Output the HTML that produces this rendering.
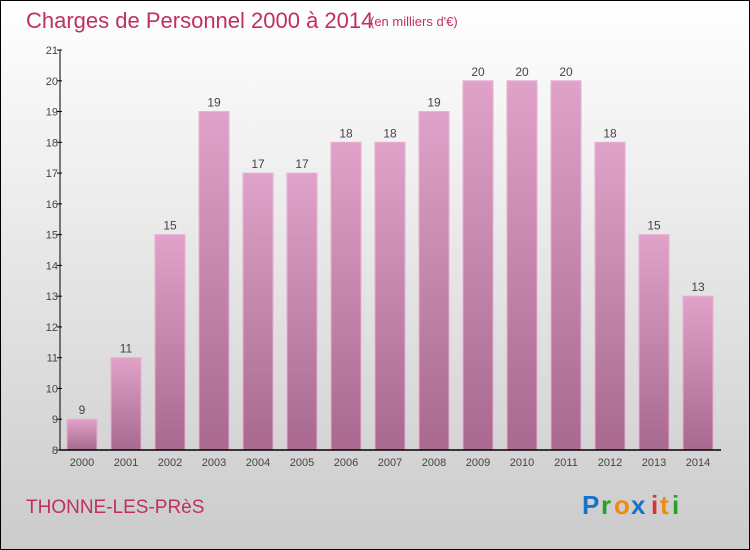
<!DOCTYPE html>
<html><head><meta charset="utf-8"><style>
html,body{margin:0;padding:0}
body{width:750px;height:550px;overflow:hidden}
svg{display:block;font-family:"Liberation Sans",sans-serif}
</style></head><body>
<svg id="chart" width="750" height="550" viewBox="0 0 750 550">
<defs>
<linearGradient id="bg" x1="0" y1="0" x2="0" y2="1"><stop offset="0" stop-color="#ffffff"/><stop offset="1" stop-color="#cbcbcb"/></linearGradient>
<linearGradient id="bar" x1="0" y1="0" x2="0" y2="1"><stop offset="0" stop-color="#e0a2c8"/><stop offset="1" stop-color="#a9698f"/></linearGradient>
</defs>
<rect x="0.5" y="0.5" width="749" height="549" fill="url(#bg)" stroke="#000"/>
<text x="26" y="28" font-size="22" fill="#c0305f">Charges de Personnel 2000 à 2014</text>
<text x="370" y="26" font-size="13" fill="#c0305f">(en milliers d'€)</text>
<g id="bars"></g>
<g id="axes"></g>
<text x="26" y="513" font-size="19" fill="#c0305f">THONNE-LES-PRèS</text>
<g font-size="26" font-weight="bold">
<text x="582" y="514" fill="#1a72c8">P</text><text x="601" y="514" fill="#2aa02a">r</text><text x="614" y="514" fill="#f08a10">o</text><text x="631" y="514" fill="#1a72c8">x</text><text x="651" y="514" fill="#e03030">i</text><text x="660" y="514" fill="#f08a10">t</text><text x="672" y="514" fill="#2aa02a">i</text>
</g>
</svg>
<script>
const years=["2000","2001","2002","2003","2004","2005","2006","2007","2008","2009","2010","2011","2012","2013","2014"];
const values=[9,11,15,19,17,17,18,18,19,20,20,20,18,15,13];
const yTicks=[8,9,10,11,12,13,14,15,16,17,18,19,20,21];
const NS="http://www.w3.org/2000/svg";
const y0=450,yTop=50,yMin=8,yMax=21;
function ys(v){return y0-(v-yMin)/(yMax-yMin)*(y0-yTop);}
function xs(i){return 82+i*44;}
function mk(t,a,p){const e=document.createElementNS(NS,t);for(const k in a)e.setAttribute(k,a[k]);p.appendChild(e);return e;}
const bars=document.getElementById('bars'),axes=document.getElementById('axes');
values.forEach((v,i)=>{
 const r=mk('rect',{x:xs(i)-15,y:ys(v),width:30,height:y0-ys(v),fill:'url(#bar)',stroke:'#e8b0d2','stroke-width':1},bars);
 
 
 const t=mk('text',{x:xs(i),y:ys(v)-5,'text-anchor':'middle','font-size':12,fill:'#444'},bars);
 t.textContent=v;
 
 
 const xl=mk('text',{x:xs(i),y:466,'text-anchor':'middle','font-size':11,fill:'#444'},axes);
 xl.textContent=years[i];
 
 
});
const ya=mk('line',{x1:60,y1:50,x2:60,y2:450,stroke:'#000','stroke-width':1},axes);


const xa=mk('line',{x1:60,y1:450,x2:721,y2:450,stroke:'#000','stroke-width':1.5},axes);


yTicks.forEach(v=>{
 mk('line',{x1:57,y1:ys(v),x2:62,y2:ys(v),stroke:'#000'},axes);
 const t=mk('text',{x:58,y:ys(v)+4,'text-anchor':'end','font-size':11,fill:'#444'},axes);
 t.textContent=v;
 
 
});
</script>
</body></html>
